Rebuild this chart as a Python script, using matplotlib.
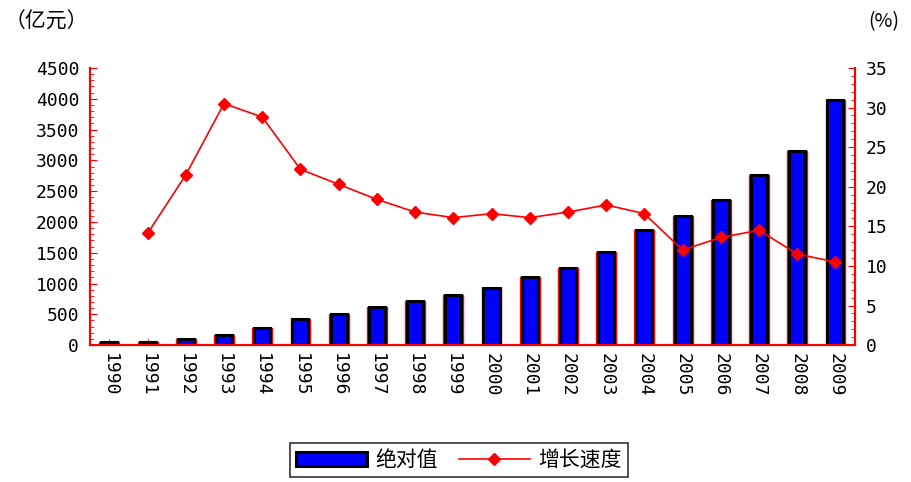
import matplotlib
matplotlib.use("Agg")
import matplotlib.pyplot as plt
import numpy as np
from matplotlib.ticker import MultipleLocator

plt.rcParams['font.family'] = ['Noto Sans CJK SC', 'DejaVu Sans']

years = [str(y) for y in range(1990, 2010)]
absolute = [50, 55, 100, 160, 280, 430, 500, 620, 720, 810,
            930, 1110, 1260, 1510, 1870, 2100, 2360, 2760, 3150, 3980]
growth_years = years[1:]
growth = [14.1, 21.5, 30.5, 28.8, 22.2, 20.3, 18.4, 16.8, 16.1,
          16.6, 16.1, 16.8, 17.7, 16.6, 12.0, 13.6, 14.5, 11.5, 10.5]

fig = plt.figure(figsize=(9.12, 4.82), dpi=100)
ax = fig.add_axes([0.099, 0.284, 0.838, 0.575])
ax2 = ax.twinx()

x = np.arange(len(years))
xg = np.arange(1, len(years))
bars = ax.bar(x, absolute, width=0.42, color='#0000FF', edgecolor='black', linewidth=2.2, zorder=2)
ax.bar(x, absolute, width=0.52, color='none', edgecolor='red', linewidth=1.0, zorder=1)
line, = ax2.plot(xg, growth, color='red', marker='D', markersize=6, linewidth=1.2, zorder=3)

ax.set_xlim(-0.5, len(years) - 0.5)
ax.set_ylim(0, 4500)
ax2.set_ylim(0, 35)
ax.yaxis.set_major_locator(MultipleLocator(500))
ax.yaxis.set_minor_locator(MultipleLocator(100))
ax2.yaxis.set_major_locator(MultipleLocator(5))
ax2.yaxis.set_minor_locator(MultipleLocator(1))
ax.set_xticks(x)
ax.set_xticklabels(years, rotation=-90, fontsize=13, family='DejaVu Sans Mono')

for a in (ax, ax2):
    a.spines['top'].set_visible(False)
    for s in ('left', 'right', 'bottom'):
        a.spines[s].set_color('red')
        a.spines[s].set_linewidth(1.5)
    a.tick_params(colors='red', labelcolor='black', labelsize=13, direction='in', length=5)
    a.tick_params(which='minor', colors='red', length=3, direction='in')
for lab in ax.get_yticklabels() + ax2.get_yticklabels():
    lab.set_family('DejaVu Sans Mono')
ax.tick_params(axis='y', pad=8)
ax2.tick_params(axis='y', pad=8)
ax.tick_params(axis='x', length=4, pad=6)

fig.text(0.005, 0.955, '（亿元）', fontsize=15, ha='left', va='center')
fig.text(0.952, 0.955, '(%)', fontsize=14, ha='left', va='center')

leg = fig.legend([bars, line], ['绝对值', '增长速度'], loc='lower center',
                 bbox_to_anchor=(0.503, -0.012), ncol=2, frameon=True, fancybox=False,
                 edgecolor='black', fontsize=15, handlelength=3.4, borderpad=0.3,
                 columnspacing=1.0, handletextpad=0.4)
leg.get_frame().set_linewidth(1.2)

fig.savefig('out.png', dpi=100)
